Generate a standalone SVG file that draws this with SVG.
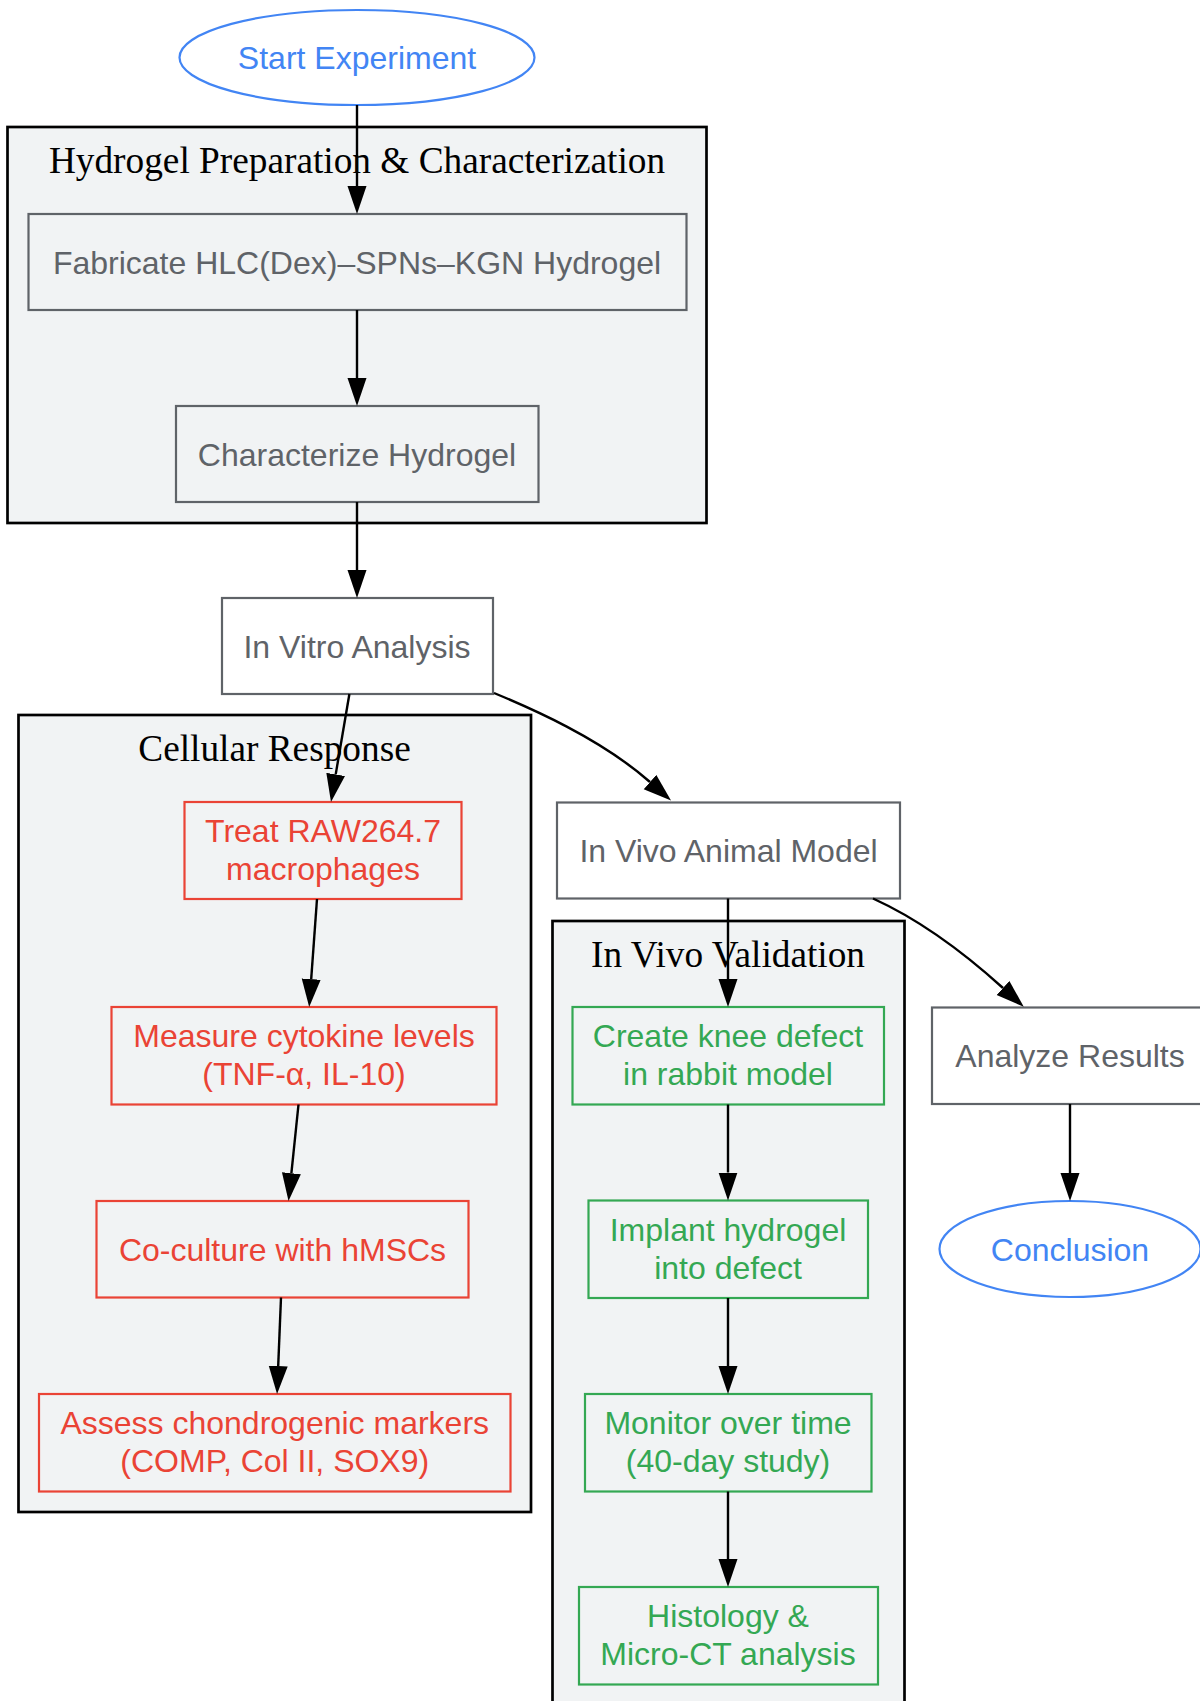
<svg xmlns="http://www.w3.org/2000/svg" width="1200" height="1701" viewBox="0 0 1200 1701">
<style>
  .cl { fill: #f1f3f4; stroke: #000; stroke-width: 2.7; }
  .ct { font-family: "Liberation Serif", "Times New Roman", serif; font-size: 37.3px; fill: #000; text-anchor: middle; }
  .nt { font-family: "Liberation Sans", Arial, sans-serif; font-size: 32px; text-anchor: middle; }
  .gray rect { fill: #ffffff; stroke: #5f6368; stroke-width: 2.2; }
  .gray.in rect { fill: #f1f3f4; }
  .gray text { fill: #5f6368; }
  .red rect { fill: #f1f3f4; stroke: #ea4335; stroke-width: 2.2; }
  .red text { fill: #ea4335; }
  .green rect { fill: #f1f3f4; stroke: #34a853; stroke-width: 2.2; }
  .green text { fill: #34a853; }
  .blue ellipse { fill: #ffffff; stroke: #4285f4; stroke-width: 2.2; }
  .blue text { fill: #4285f4; }
  .edge { fill: none; stroke: #000; stroke-width: 2.4; marker-end: url(#ah); }
</style>
<defs>
  <marker id="ah" markerUnits="userSpaceOnUse" markerWidth="28" markerHeight="20" refX="0" refY="10" orient="auto" viewBox="0 0 28 20">
    <path d="M0,0.5 L28,10 L0,19.5 z" fill="#000"/>
  </marker>
</defs>
<rect width="1200" height="1701" fill="#ffffff"/>

<g id="cluster_prep">
  <rect class="cl" x="7.5" y="127" width="699" height="396"/>
  <text class="ct" x="357" y="173">Hydrogel Preparation &amp; Characterization</text>
</g>
<g id="cluster_cell">
  <rect class="cl" x="18.5" y="715" width="512.5" height="797"/>
  <text class="ct" x="274.5" y="761">Cellular Response</text>
</g>
<g id="cluster_vivo">
  <rect class="cl" x="552.5" y="921" width="352" height="800"/>
  <text class="ct" x="728" y="967">In Vivo Validation</text>
</g>

<g id="start" class="blue">
  <ellipse cx="357" cy="57.5" rx="177.5" ry="47.5"/>
  <text class="nt" x="357" y="69">Start Experiment</text>
</g>
<g id="fabricate" class="gray in">
  <rect x="28.5" y="214" width="658" height="96"/>
  <text class="nt" x="357" y="273.5">Fabricate HLC(Dex)–SPNs–KGN Hydrogel</text>
</g>
<g id="characterize" class="gray in">
  <rect x="176" y="406" width="362.5" height="96"/>
  <text class="nt" x="357" y="465.5">Characterize Hydrogel</text>
</g>
<g id="invitro" class="gray">
  <rect x="222" y="598" width="271" height="96"/>
  <text class="nt" x="357" y="657.5">In Vitro Analysis</text>
</g>
<g id="treat" class="red">
  <rect x="184.5" y="802" width="277" height="97"/>
  <text class="nt" x="323" y="842">Treat RAW264.7</text>
  <text class="nt" x="323" y="880">macrophages</text>
</g>
<g id="measure" class="red">
  <rect x="111.5" y="1007" width="385" height="97.5"/>
  <text class="nt" x="304" y="1047">Measure cytokine levels</text>
  <text class="nt" x="304" y="1085">(TNF-α, IL-10)</text>
</g>
<g id="coculture" class="red">
  <rect x="96.5" y="1201" width="372" height="96.5"/>
  <text class="nt" x="282.5" y="1260.5">Co-culture with hMSCs</text>
</g>
<g id="assess" class="red">
  <rect x="39" y="1394" width="471.5" height="97.5"/>
  <text class="nt" x="274.75" y="1434">Assess chondrogenic markers</text>
  <text class="nt" x="274.75" y="1472">(COMP, Col II, SOX9)</text>
</g>
<g id="invivo" class="gray">
  <rect x="557" y="802.5" width="343" height="96"/>
  <text class="nt" x="728.5" y="862">In Vivo Animal Model</text>
</g>
<g id="knee" class="green">
  <rect x="572.5" y="1007" width="311.5" height="97.5"/>
  <text class="nt" x="728" y="1047">Create knee defect</text>
  <text class="nt" x="728" y="1085">in rabbit model</text>
</g>
<g id="implant" class="green">
  <rect x="588.5" y="1200.5" width="279.5" height="97.5"/>
  <text class="nt" x="728" y="1240.5">Implant hydrogel</text>
  <text class="nt" x="728" y="1278.5">into defect</text>
</g>
<g id="monitor" class="green">
  <rect x="585" y="1394" width="286.5" height="97.5"/>
  <text class="nt" x="728" y="1434">Monitor over time</text>
  <text class="nt" x="728" y="1472">(40-day study)</text>
</g>
<g id="histology" class="green">
  <rect x="579" y="1587" width="299" height="97.5"/>
  <text class="nt" x="728" y="1627">Histology &amp;</text>
  <text class="nt" x="728" y="1665">Micro-CT analysis</text>
</g>
<g id="analyze" class="gray">
  <rect x="932" y="1007.5" width="276" height="96.5"/>
  <text class="nt" x="1070" y="1067">Analyze Results</text>
</g>
<g id="conclusion" class="blue">
  <ellipse cx="1070" cy="1249" rx="130.5" ry="48"/>
  <text class="nt" x="1070" y="1260.5">Conclusion</text>
</g>

<g id="edges">
  <path class="edge" d="M357,105 L357,186"/>
  <path class="edge" d="M357,310 L357,378"/>
  <path class="edge" d="M357,502 L357,570"/>
  <path class="edge" d="M349.4,694 L335.7,774.4"/>
  <path class="edge" d="M494,693 C530,708 600,738 650,782"/>
  <path class="edge" d="M728,898.5 L728,979"/>
  <path class="edge" d="M873,898.5 C905,913 950,940 1003,988"/>
  <path class="edge" d="M317,899 L311.2,979.1"/>
  <path class="edge" d="M298.5,1104.5 L291.4,1173.2"/>
  <path class="edge" d="M281,1297.5 L278.2,1366"/>
  <path class="edge" d="M728,1104.5 L728,1172.5"/>
  <path class="edge" d="M728,1298 L728,1366"/>
  <path class="edge" d="M728,1491.5 L728,1559"/>
  <path class="edge" d="M1070,1104 L1070,1173"/>
</g>
</svg>
